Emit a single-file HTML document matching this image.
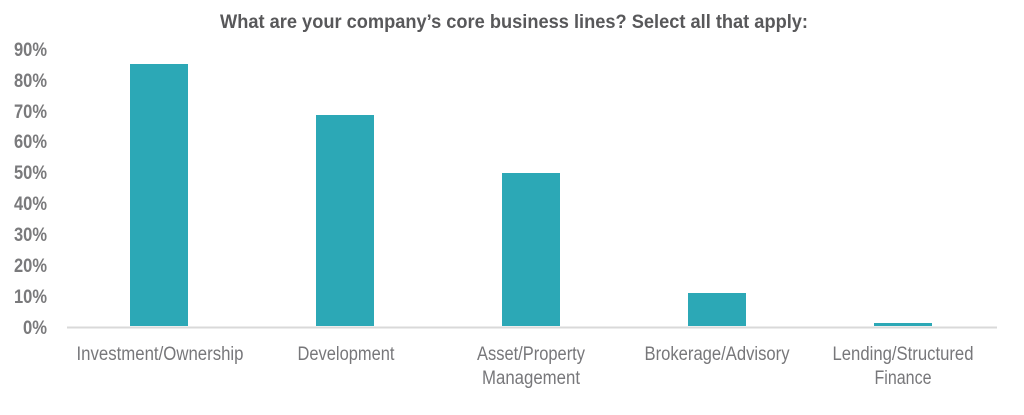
<!DOCTYPE html>
<html><head><style>
body{margin:0;background:#fff;}
svg text{font-family:"Liberation Sans Narrow","Liberation Sans",sans-serif;}
</style></head><body>
<svg width="1024" height="410" xmlns="http://www.w3.org/2000/svg">
<rect width="1024" height="410" fill="#fff"/>
<text x="514" y="28" text-anchor="middle" font-size="19" font-weight="bold" fill="#58585a" textLength="588" lengthAdjust="spacingAndGlyphs">What are your company’s core business lines? Select all that apply:</text>
<g font-size="19" font-weight="bold" fill="#7a7a7c" text-anchor="end">
<text x="47" y="334" textLength="24" lengthAdjust="spacingAndGlyphs">0%</text>
<text x="47" y="303" textLength="33" lengthAdjust="spacingAndGlyphs">10%</text>
<text x="47" y="272" textLength="33" lengthAdjust="spacingAndGlyphs">20%</text>
<text x="47" y="241" textLength="33" lengthAdjust="spacingAndGlyphs">30%</text>
<text x="47" y="210" textLength="33" lengthAdjust="spacingAndGlyphs">40%</text>
<text x="47" y="179" textLength="33" lengthAdjust="spacingAndGlyphs">50%</text>
<text x="47" y="148" textLength="33" lengthAdjust="spacingAndGlyphs">60%</text>
<text x="47" y="118" textLength="33" lengthAdjust="spacingAndGlyphs">70%</text>
<text x="47" y="87" textLength="33" lengthAdjust="spacingAndGlyphs">80%</text>
<text x="47" y="56" textLength="33" lengthAdjust="spacingAndGlyphs">90%</text>
</g>
<line x1="67" y1="327.5" x2="997" y2="327.5" stroke="#d9d9d9" stroke-width="2"/>
<g fill="#2ca8b6">
<rect x="130" y="64" width="58" height="262"/>
<rect x="316" y="115" width="58" height="211"/>
<rect x="502" y="173" width="58" height="153"/>
<rect x="688" y="293" width="58" height="33"/>
<rect x="874" y="323" width="58" height="3"/>
</g>
<g font-size="19" fill="#77777a" text-anchor="middle" lengthAdjust="spacingAndGlyphs">
<text x="160" y="360" textLength="167" lengthAdjust="spacingAndGlyphs">Investment/Ownership</text>
<text x="346" y="360" textLength="97" lengthAdjust="spacingAndGlyphs">Development</text>
<text x="531" y="360" textLength="108" lengthAdjust="spacingAndGlyphs">Asset/Property</text>
<text x="531" y="384" textLength="98" lengthAdjust="spacingAndGlyphs">Management</text>
<text x="717" y="360" textLength="145" lengthAdjust="spacingAndGlyphs">Brokerage/Advisory</text>
<text x="903" y="360" textLength="141" lengthAdjust="spacingAndGlyphs">Lending/Structured</text>
<text x="903" y="384" textLength="57" lengthAdjust="spacingAndGlyphs">Finance</text>
</g>
</svg>
</body></html>
